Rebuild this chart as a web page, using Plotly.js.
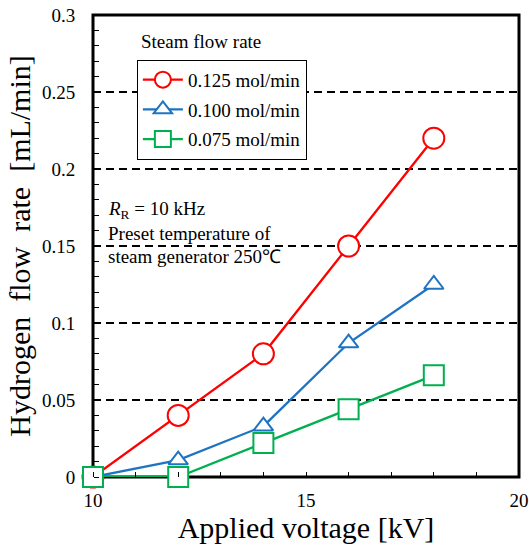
<!DOCTYPE html>
<html><head><meta charset="utf-8">
<script src="https://cdn.plot.ly/plotly-3.0.1.min.js"></script>
<style>body{margin:0}#c{width:529px;height:547px}</style>
</head><body><div id="c"></div>
<script>
const voltage = [10, 12, 14, 16, 18];
const seriesNames = ["0.125 mol/min", "0.100 mol/min", "0.075 mol/min"];
const h2_0125 = [0, 0.040, 0.080, 0.150, 0.220];
const h2_0100 = [0, 0.011, 0.033, 0.087, 0.125];
const h2_0075 = [0, 0, 0.022, 0.044, 0.066];
const colors = ["#ff0000", "#1f74c2", "#00b050"];
const symbols = ["circle", "triangle-up", "square"];
const markerSizes = [21, 17, 20];
const ys = [h2_0125, h2_0100, h2_0075];

const font = "Liberation Serif";
const data = ys.map((y, i) => ({
  x: voltage, y: y, name: seriesNames[i], legendgroup: "g" + i,
  type: "scatter", mode: "lines+markers",
  line: {color: colors[i], width: 2.3},
  marker: {symbol: symbols[i], size: markerSizes[i], color: "#ffffff",
           line: {color: colors[i], width: 2}},
  cliponaxis: false
}));
// invisible trace carrying the overlay axes that draw the inward tick marks
data.push({x: [10, 20], y: [0, 0.3], xaxis: "x2", yaxis: "y2", type: "scatter", mode: "markers",
  marker: {opacity: 0}, showlegend: false, hoverinfo: "skip"});

const layout = {
  width: 529, height: 547,
  margin: {l: 93, r: 10, t: 15, b: 70},
  paper_bgcolor: "#ffffff", plot_bgcolor: "#ffffff",
  font: {family: font, color: "#000000", size: 19},
  showlegend: true,
  legend: {x: 0.103, y: 0.903, xanchor: "left", yanchor: "top", traceorder: "grouped",
    bordercolor: "#000000", borderwidth: 1, bgcolor: "#ffffff",
    font: {family: font, size: 19}, itemwidth: 40, tracegroupgap: 2},
  xaxis: {range: [10, 20], dtick: 5, tick0: 10, ticks: "outside", ticklen: 6, tickcolor: "rgba(0,0,0,0)",
    showline: false, showgrid: false, zeroline: false,
    tickfont: {family: font, size: 19},
    title: {text: "Applied voltage [kV]", font: {family: font, size: 30}, standoff: 5}},
  yaxis: {range: [0, 0.3], dtick: 0.05, tick0: 0, ticks: "outside", ticklen: 13, tickcolor: "rgba(0,0,0,0)",
    showline: false, zeroline: false,
    showgrid: true, gridcolor: "#000000", gridwidth: 1.5, griddash: "8px,5px",
    tickfont: {family: font, size: 19},
    title: {text: "Hydrogen\u00a0 flow\u00a0 rate\u00a0 [mL/min]", font: {family: font, size: 30}, standoff: 2}},
  xaxis2: {overlaying: "x", side: "top", anchor: "free", position: 0, range: [10, 20], dtick: 1, tick0: 10,
    ticks: "outside", ticklen: 5, tickwidth: 1.2, tickcolor: "#000000",
    showticklabels: false, showgrid: false, zeroline: false, showline: false},
  yaxis2: {overlaying: "y", side: "right", anchor: "free", position: 0, range: [0, 0.3], dtick: 0.01, tick0: 0,
    ticks: "outside", ticklen: 5, tickwidth: 1.2, tickcolor: "#000000",
    showticklabels: false, showgrid: false, zeroline: false, showline: false},
  shapes: [
    {type: "rect", xref: "paper", yref: "paper", x0: 0, x1: 1, y0: 0, y1: 1, layer: "below",
     line: {color: "#000000", width: 3}}
  ],
  annotations: [
    {xref: "paper", yref: "paper", x: 0.108, y: 0.9416, xanchor: "left", yanchor: "middle",
     text: "Steam flow rate", showarrow: false, font: {family: font, size: 19}},
    {xref: "paper", yref: "paper", x: 0.03, y: 0.5790, xanchor: "left", yanchor: "middle",
     text: "<i>R</i><sub>R</sub> = 10 kHz", showarrow: false, font: {family: font, size: 19}},
    {xref: "paper", yref: "paper", x: 0.03, y: 0.5281, xanchor: "left", yanchor: "middle",
     text: "Preset temperature of", showarrow: false, font: {family: font, size: 19}},
    {xref: "paper", yref: "paper", x: 0.03, y: 0.4773, xanchor: "left", yanchor: "middle",
     text: "steam generator 250\u2103", showarrow: false, font: {family: font, size: 19}}
  ]
};
Plotly.newPlot("c", data, layout, {displayModeBar: false});
</script></body></html>
